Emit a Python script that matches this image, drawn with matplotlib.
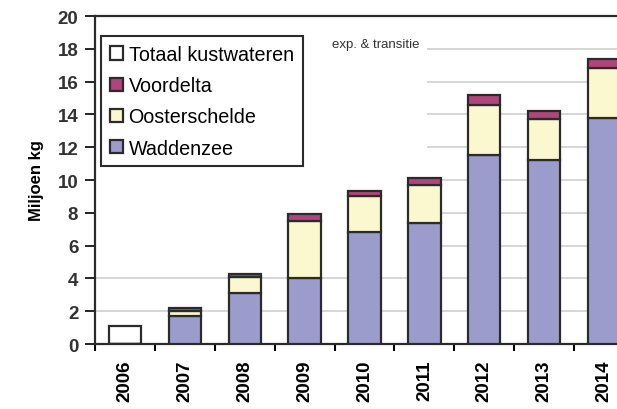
import matplotlib
matplotlib.use("Agg")
import matplotlib.pyplot as plt
import numpy as np

plt.rcParams["font.family"] = ["Liberation Sans", "DejaVu Sans"]

years = ["2006", "2007", "2008", "2009", "2010", "2011", "2012", "2013", "2014"]
totaal = [1.1, 0, 0, 0, 0, 0, 0, 0, 0]
waddenzee = [0, 1.7, 3.1, 4.0, 6.8, 7.4, 11.5, 11.2, 13.8]
oosterschelde = [0, 0.3, 1.0, 3.5, 2.2, 2.3, 3.1, 2.5, 3.0]
voordelta = [0, 0.2, 0.15, 0.4, 0.3, 0.4, 0.6, 0.5, 0.6]

grid_levels = [2, 4, 6, 8, 10, 12, 14, 16, 18]
grid_start = [-0.5, -0.5, 5.05, 5.05, 5.05, 5.05, 5.05, 5.05, 5.05]

fig = plt.figure(figsize=(6.17, 4.10), dpi=100)
ax = fig.add_axes([0.154, 0.1585, 0.8736, 0.8])

x = np.arange(len(years))
w = 0.54
edge = "#2b2b2b"
lw = 1.6

ax.hlines(grid_levels, grid_start, 8.5, colors="#d0d0d0", linewidth=1.2, zorder=1)

ax.bar(x, totaal, w, color="white", edgecolor=edge, linewidth=lw, zorder=3,
       label="Totaal kustwateren")
ax.bar(x, waddenzee, w, color="#9c9ccc", edgecolor=edge, linewidth=lw, zorder=3,
       label="Waddenzee")
ax.bar(x, oosterschelde, w, bottom=waddenzee, color="#fbf8cf", edgecolor=edge,
       linewidth=lw, zorder=3, label="Oosterschelde")
bottom2 = np.array(waddenzee) + np.array(oosterschelde)
ax.bar(x, voordelta, w, bottom=bottom2, color="#b0457c", edgecolor=edge,
       linewidth=lw, zorder=3, label="Voordelta")

ax.text(4.92, 18.3, "exp. & transitie", ha="right", va="center", fontsize=9.5,
        color="#333333")

ax.set_xlim(-0.5, 8.5)
ax.set_ylim(0, 20)
ax.set_yticks(range(0, 21, 2))
ax.set_xticks(x)
ax.set_xticklabels(years, rotation=90, fontsize=13.5, fontweight="bold")
ax.set_xticks(np.arange(-0.5, 9, 1), minor=True)
ax.tick_params(axis="x", which="major", length=0, pad=11)
ax.tick_params(axis="x", which="minor", length=5, width=1.5, direction="out")
ax.tick_params(axis="y", length=7, width=1.2, direction="out", labelsize=13.5,
               pad=5)
for lab in ax.get_yticklabels():
    lab.set_fontweight("bold")
    lab.set_color("#333333")
ax.set_ylabel("Miljoen kg", fontsize=12, fontweight="bold", labelpad=10)

for side in ["left", "bottom", "top", "right"]:
    ax.spines[side].set_linewidth(1.6)
    ax.spines[side].set_color(edge)

handles, labels = ax.get_legend_handles_labels()
order = [0, 3, 2, 1]
leg = ax.legend([handles[i] for i in order], [labels[i] for i in order],
                loc="upper left", bbox_to_anchor=(0.011, 0.939), borderaxespad=0,
                fontsize=14.2, handlelength=0.65, handleheight=0.65,
                handletextpad=0.3, labelspacing=0.62, borderpad=0.45,
                fancybox=False, framealpha=1, edgecolor=edge)
leg.get_frame().set_linewidth(1.5)
leg.set_zorder(5)

fig.savefig("out.png", dpi=100)
